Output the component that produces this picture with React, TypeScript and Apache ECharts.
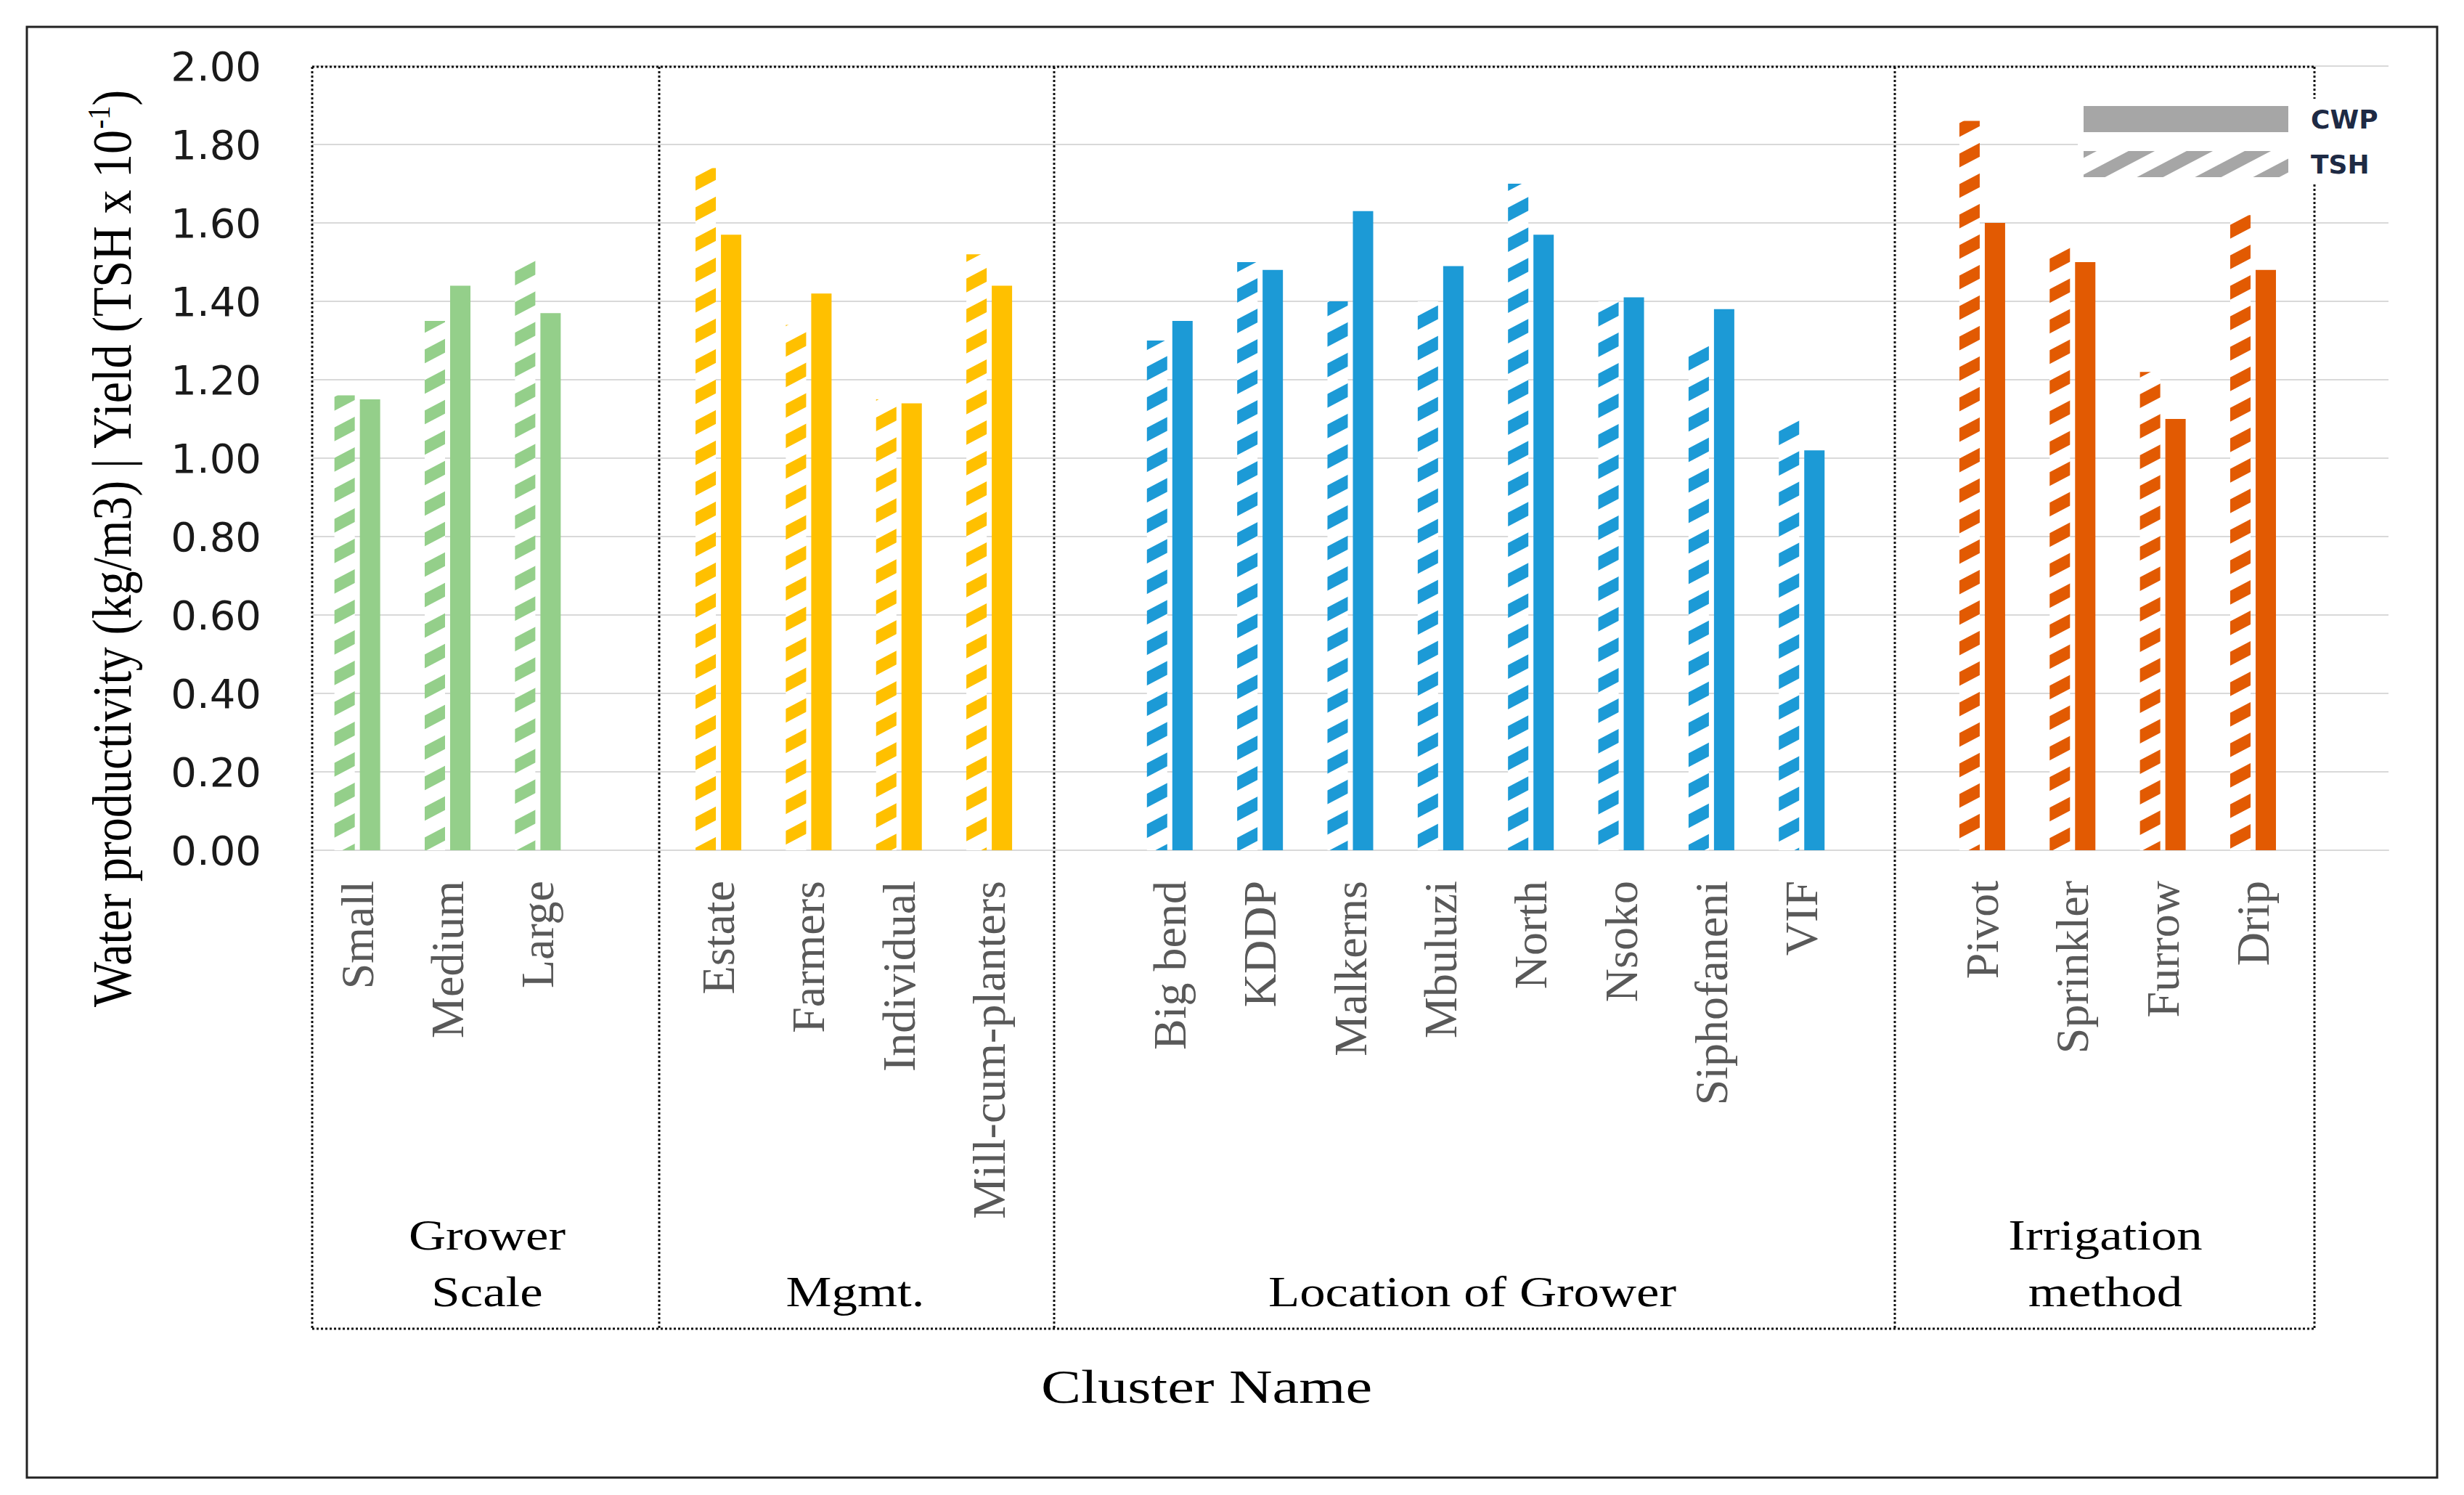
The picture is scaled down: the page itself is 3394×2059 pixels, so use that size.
import React, { useEffect, useRef } from 'react';
import * as echarts from 'echarts';

// ---- data ----
const categories = [
  'Small', 'Medium', 'Large', ' ',
  'Estate', 'Farmers', 'Individual', 'Mill-cum-planters', '  ',
  'Big bend', 'KDDP', 'Malkerns', 'Mbuluzi', 'North', 'Nsoko', 'Siphofaneni', 'VIF', '   ',
  'Pivot', 'Sprinkler', 'Furrow', 'Drip', '    ',
];
// which cluster each category belongs to (-1 = spacer)
const categoryGroup = [0, 0, 0, -1, 1, 1, 1, 1, -1, 2, 2, 2, 2, 2, 2, 2, 2, -1, 3, 3, 3, 3, -1];
const tshValues = [1.16, 1.35, 1.51, null, 1.74, 1.34, 1.15, 1.52, null, 1.30, 1.50, 1.40, 1.40, 1.70, 1.40, 1.30, 1.10, null, 1.86, 1.55, 1.22, 1.62, null];
const cwpValues = [1.15, 1.44, 1.37, null, 1.57, 1.42, 1.14, 1.44, null, 1.35, 1.48, 1.63, 1.49, 1.57, 1.41, 1.38, 1.02, null, 1.60, 1.50, 1.10, 1.48, null];
const groupLabels = ['Grower\nScale', 'Mgmt.', 'Location of Grower', 'Irrigation\nmethod'];
const seriesNames = ['TSH', 'CWP'];
const yAxisTitle = 'Water productivity (kg/m3) | Yield (TSH x 10{s|-1})';
const xAxisTitle = 'Cluster Name';

// ---- styles / layout ----
const groupColors = ['#94CF8A', '#FFC000', '#1C9AD6', '#E25A02'];
const legendGrey = '#A6A6A6';
const boxX = [430, 908, 1452, 2610, 3188];
const boxTop = 92;
const boxBottom = 1830;
const groupLabelPos = [
  { x: 671, y: 1740 },
  { x: 1178, y: 1779 },
  { x: 2028, y: 1779 },
  { x: 2900, y: 1740 },
];

// upward diagonal hatch ("/") drawn into a seamless tile
const makeHatch = (color: string) => {
  const W = 80;
  const H = 42;
  const t = 19;
  const c = document.createElement('canvas');
  c.width = W;
  c.height = H;
  const ctx = c.getContext('2d')!;
  ctx.fillStyle = '#ffffff';
  ctx.fillRect(0, 0, W, H);
  ctx.fillStyle = color;
  for (const dy of [-H, 0, H]) {
    ctx.beginPath();
    ctx.moveTo(0, H + dy - t / 2);
    ctx.lineTo(W, dy - t / 2);
    ctx.lineTo(W, dy + t / 2);
    ctx.lineTo(0, H + dy + t / 2);
    ctx.closePath();
    ctx.fill();
  }
  return { image: c.toDataURL(), repeat: 'repeat', imageWidth: W, imageHeight: H };
};

export default function App() {
  const ref = useRef<HTMLDivElement>(null);

  useEffect(() => {
    const chart = echarts.init(ref.current!, null, { renderer: 'svg' });
    const hatchByGroup = groupColors.map((c) => makeHatch(c));
    const legendHatch = makeHatch(legendGrey);

    const dotted = { stroke: '#111', lineWidth: 3, lineDash: [3, 3] };
    const graphic: any[] = [];
    // outer frame
    graphic.push({
      type: 'rect',
      z: 0,
      shape: { x: 37, y: 37, width: 3320, height: 1998 },
      style: { fill: 'none', stroke: '#222', lineWidth: 3 },
    });
    // cluster boxes
    graphic.push({ type: 'line', z: 1, shape: { x1: boxX[0], y1: boxTop, x2: boxX[boxX.length - 1], y2: boxTop }, style: dotted });
    graphic.push({ type: 'line', z: 1, shape: { x1: boxX[0], y1: boxBottom, x2: boxX[boxX.length - 1], y2: boxBottom }, style: dotted });
    boxX.forEach((x) => {
      graphic.push({ type: 'line', z: 1, shape: { x1: x, y1: boxTop, x2: x, y2: boxBottom }, style: dotted });
    });
    // cluster labels
    groupLabels.forEach((t, i) => {
      graphic.push({
        type: 'text',
        z: 5,
        x: groupLabelPos[i].x,
        y: groupLabelPos[i].y,
        scaleX: 1.18,
        style: {
          text: t,
          fontFamily: 'Liberation Serif',
          fontSize: 60,
          lineHeight: 78,
          fill: '#000',
          align: 'center',
          verticalAlign: 'middle',
          textAlign: 'center',
          textVerticalAlign: 'middle',
        },
      });
    });
    // x axis title
    graphic.push({
      type: 'text',
      z: 5,
      x: 1662,
      y: 1910,
      scaleX: 1.27,
      style: {
        text: xAxisTitle,
        fontFamily: 'Liberation Serif',
        fontSize: 65,
        fill: '#000',
        align: 'center',
        verticalAlign: 'middle',
        textAlign: 'center',
        textVerticalAlign: 'middle',
      },
    });
    // y axis title
    graphic.push({
      type: 'text',
      z: 5,
      x: 154,
      y: 756,
      rotation: Math.PI / 2,
      scaleX: 0.87,
      style: {
        text: yAxisTitle,
        fontFamily: 'Liberation Serif',
        fontSize: 76,
        lineHeight: 80,
        fill: '#000',
        align: 'center',
        verticalAlign: 'middle',
        textAlign: 'center',
        textVerticalAlign: 'middle',
        rich: {
          s: { fontFamily: 'Liberation Serif', fontSize: 44, lineHeight: 46, verticalAlign: 'top', fill: '#000' },
        },
      },
    });

    const option: any = {
      animation: false,
      backgroundColor: '#fff',
      grid: { left: 430, right: 104, top: 91, bottom: 888 },
      legend: {
        data: ['CWP', 'TSH'],
        orient: 'vertical',
        left: 2862,
        top: 136,
        icon: 'rect',
        itemWidth: 282,
        itemHeight: 36,
        itemGap: 18,
        padding: [6, 18, 6, 8],
        backgroundColor: '#fff',
        selectedMode: false,
        z: 6,
        textStyle: {
          fontFamily: 'DejaVu Sans',
          fontWeight: 'bold',
          fontSize: 36,
          lineHeight: 36,
          color: '#1e2a44',
          padding: [8, 0, 0, 26],
        },
      },
      xAxis: {
        type: 'category',
        data: categories,
        axisTick: { show: false },
        axisLine: { lineStyle: { color: '#D9D9D9', width: 2 } },
        axisLabel: {
          interval: 0,
          rotate: 90,
          margin: 42,
          hideOverlap: false,
          fontFamily: 'Liberation Serif',
          fontSize: 64,
          color: '#595959',
        },
      },
      yAxis: {
        type: 'value',
        min: 0,
        max: 2,
        interval: 0.2,
        axisLine: { show: false },
        axisTick: { show: false },
        splitLine: { lineStyle: { color: '#D9D9D9', width: 2 } },
        axisLabel: {
          formatter: (v: number) => v.toFixed(2),
          margin: 70,
          fontFamily: 'DejaVu Sans',
          fontSize: 56,
          color: '#1a1a1a',
        },
      },
      series: [
        {
          name: seriesNames[0],
          type: 'bar',
          barWidth: 28,
          barGap: '25%',
          itemStyle: { color: legendHatch },
          data: tshValues.map((v, i) =>
            v == null ? null : { value: v, itemStyle: { color: hatchByGroup[categoryGroup[i]] } }
          ),
        },
        {
          name: seriesNames[1],
          type: 'bar',
          barWidth: 28,
          barGap: '25%',
          itemStyle: { color: legendGrey },
          data: cwpValues.map((v, i) =>
            v == null ? null : { value: v, itemStyle: { color: groupColors[categoryGroup[i]] } }
          ),
        },
      ],
      graphic,
    };

    chart.setOption(option);
    return () => chart.dispose();
  }, []);

  return (
    <div
      ref={ref}
      style={{ position: 'fixed', left: 0, top: 0, width: 3394, height: 2059, background: '#fff' }}
    />
  );
}
